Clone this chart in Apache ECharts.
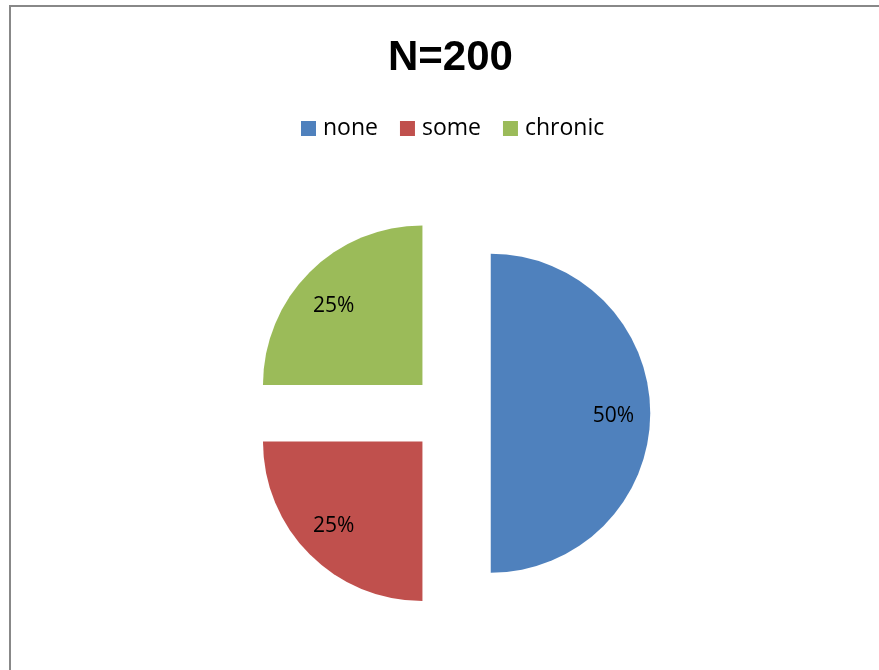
<!DOCTYPE html>
<html>
<head>
<meta charset="utf-8">
<script src="https://cdn.jsdelivr.net/npm/echarts@6/dist/echarts.min.js"></script>
<style>
  html, body { margin: 0; padding: 0; background: #fff; overflow: hidden; }
  #chart { width: 879px; height: 670px; }
</style>
</head>
<body>
<div id="chart"></div>
<script>
const titleText = 'N=200';
const categories = ['none', 'some', 'chronic'];
const values = [100, 50, 50];
const colors = ['#4F81BD', '#C0504D', '#9BBB59'];

const chart = echarts.init(document.getElementById('chart'), null, { renderer: 'canvas' });

const center = [450.75, 413.25];
const radius = 159.5;
const offset = 40;
// small label nudges [dx, dy] so text sits where the original placed it
const labelNudge = [[0, 3], [-2, -2], [-2, 8]];

const pieData = categories.map((c, i) => ({
  name: c,
  value: values[i],
  selected: true,
  itemStyle: { color: colors[i] }
}));
const labelData = categories.map((c, i) => ({
  name: c,
  value: values[i],
  selected: true
}));

chart.setOption({
  animation: false,
  backgroundColor: '#ffffff',
  title: {
    text: titleText,
    left: 383,
    top: 32,
    textStyle: { fontFamily: 'Liberation Sans', fontWeight: 'bold', fontSize: 42, color: '#000' }
  },
  legend: {
    data: categories,
    left: 296,
    top: 112,
    itemWidth: 15,
    itemHeight: 15,
    itemGap: 22,
    icon: 'rect',
    selectedMode: false,
    textStyle: { fontFamily: 'Open Sans', fontSize: 23, color: '#000', padding: [0, 0, 0, 2] }
  },
  graphic: [{
    type: 'rect',
    silent: true,
    shape: { x: 10, y: 6, width: 1000, height: 1000 },
    style: { fill: 'none', stroke: '#888888', lineWidth: 2 }
  }],
  series: [
    {
      type: 'pie',
      center: center,
      radius: [0, radius],
      startAngle: 90,
      clockwise: true,
      selectedMode: 'multiple',
      selectedOffset: offset,
      label: { show: false },
      labelLine: { show: false },
      emphasis: { disabled: true },
      itemStyle: { borderWidth: 0 },
      data: pieData
    },
    {
      type: 'pie',
      center: center,
      radius: [80, radius],
      startAngle: 90,
      clockwise: true,
      selectedMode: 'multiple',
      selectedOffset: offset,
      silent: true,
      itemStyle: { color: 'rgba(0,0,0,0)', borderWidth: 0 },
      label: {
        show: true,
        position: 'inside',
        formatter: '{d}%',
        fontFamily: 'Open Sans',
        fontSize: 21,
        color: '#000'
      },
      labelLayout: function (p) {
        const n = labelNudge[p.dataIndex] || [0, 0];
        return { dx: n[0], dy: n[1] };
      },
      labelLine: { show: false },
      emphasis: { disabled: true },
      data: labelData
    }
  ]
});
</script>
</body>
</html>
